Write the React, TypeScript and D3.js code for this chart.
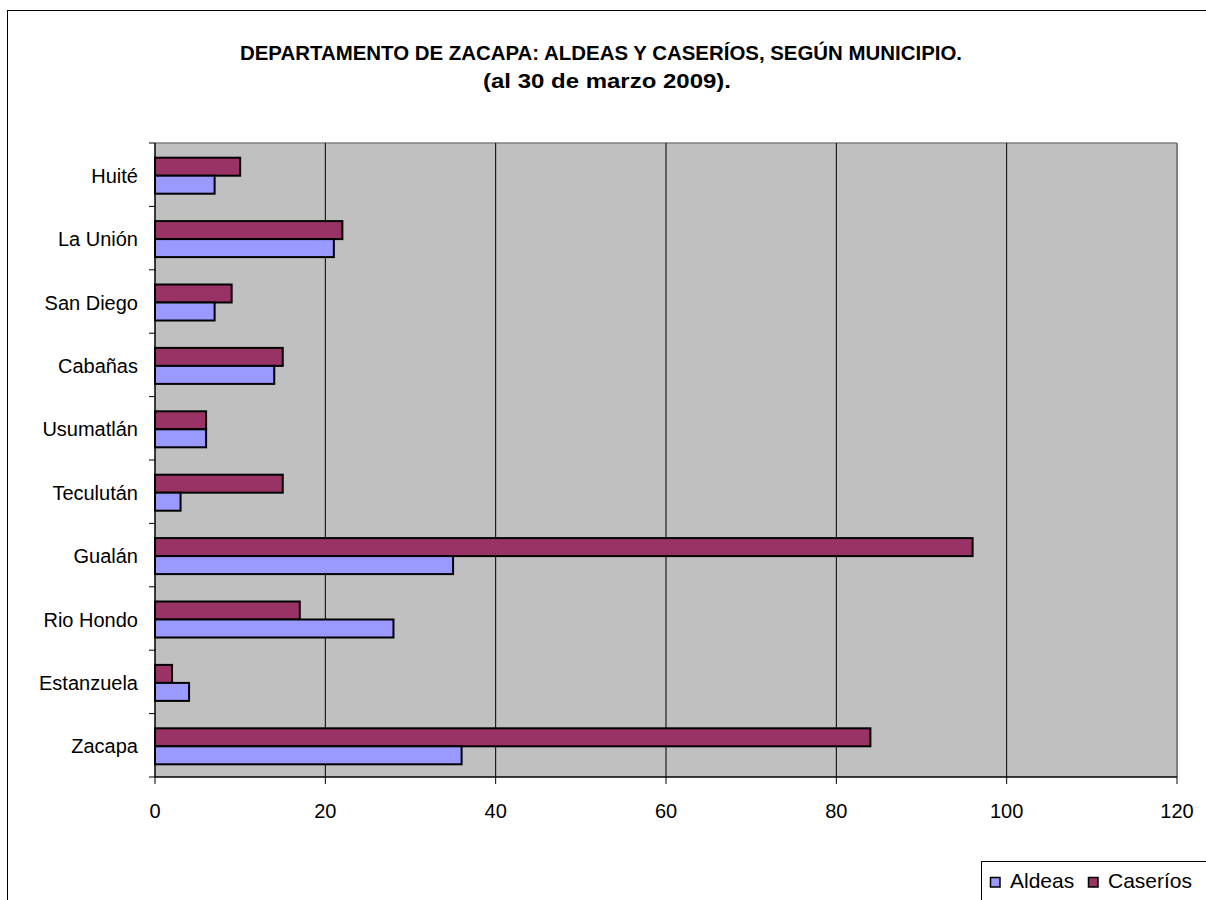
import React from 'react';
import * as d3 from 'd3';

const municipios = ['Huité', 'La Unión', 'San Diego', 'Cabañas', 'Usumatlán', 'Teculután', 'Gualán', 'Rio Hondo', 'Estanzuela', 'Zacapa'];
const aldeas = [7, 21, 7, 14, 6, 3, 35, 28, 4, 36];
const caserios = [10, 22, 9, 15, 6, 15, 96, 17, 2, 84];
const xTicks = [0, 20, 40, 60, 80, 100, 120];
const seriesNames = ['Aldeas', 'Caseríos'];
const seriesColors = ['#9999FF', '#993366'];

const W = 1206;
const H = 900;
const plot = { left: 155, top: 143, right: 1177, bottom: 777 };
const font = 'Arial, "Liberation Sans", sans-serif';

export default function App() {
  const x = d3.scaleLinear().domain([0, 120]).range([plot.left, plot.right]);
  const y = d3.scaleBand().domain(municipios).range([plot.top, plot.bottom]);
  const barH = 18;

  const boundaries = d3.range(municipios.length + 1).map((i) => plot.top + i * y.step());

  return (
    <svg width={W} height={H} style={{ position: 'absolute', left: 0, top: 0, background: '#fff' }}>
      {/* outer frame, cut off on the right and bottom */}
      <rect x={7.5} y={10.5} width={W + 10} height={H + 10} fill="#fff" stroke="#000" strokeWidth={1} />

      <text x={601} y={60} textAnchor="middle" fontFamily={font} fontWeight="bold" fontSize={20.5} textLength={722} lengthAdjust="spacingAndGlyphs">
        DEPARTAMENTO DE ZACAPA: ALDEAS Y CASERÍOS, SEGÚN MUNICIPIO.
      </text>
      <text x={607} y={88} textAnchor="middle" fontFamily={font} fontWeight="bold" fontSize={20.5} textLength={248} lengthAdjust="spacingAndGlyphs">
        (al 30 de marzo 2009).
      </text>

      {/* plot area */}
      <rect x={plot.left} y={plot.top} width={plot.right - plot.left} height={plot.bottom - plot.top} fill="#C0C0C0" />
      <line x1={plot.left} x2={plot.right} y1={plot.top} y2={plot.top} stroke="#808080" strokeWidth={1.5} />
      <line x1={plot.right} x2={plot.right} y1={plot.top} y2={plot.bottom} stroke="#808080" strokeWidth={2} />

      {xTicks.slice(1, -1).map((t) => (
        <line key={t} x1={x(t)} x2={x(t)} y1={plot.top} y2={plot.bottom} stroke="#000" strokeWidth={1} />
      ))}

      {municipios.map((m, i) => {
        const c = (y(m) as number) + y.bandwidth() / 2 + 1;
        return (
          <g key={m}>
            <rect x={x(0)} y={c - barH} width={x(caserios[i]) - x(0)} height={barH} fill={seriesColors[1]} stroke="#000" strokeWidth={2} />
            <rect x={x(0)} y={c} width={x(aldeas[i]) - x(0)} height={barH} fill={seriesColors[0]} stroke="#000" strokeWidth={2} />
            <text x={138} y={c + 7} textAnchor="end" fontFamily={font} fontSize={20}>{m}</text>
          </g>
        );
      })}

      {/* axes */}
      <line x1={plot.left} x2={plot.left} y1={plot.top} y2={plot.bottom} stroke="#000" strokeWidth={1.5} />
      <line x1={plot.left} x2={plot.right} y1={plot.bottom} y2={plot.bottom} stroke="#000" strokeWidth={1.5} />
      {boundaries.map((b, i) => (
        <line key={i} x1={plot.left - 6} x2={plot.left} y1={b} y2={b} stroke="#000" strokeWidth={1} />
      ))}
      {xTicks.map((t) => (
        <g key={t}>
          <line x1={x(t)} x2={x(t)} y1={plot.bottom} y2={plot.bottom + 7} stroke="#000" strokeWidth={1} />
          <text x={x(t)} y={818} textAnchor="middle" fontFamily={font} fontSize={20}>{t}</text>
        </g>
      ))}

      {/* legend */}
      <rect x={981.5} y={861.5} width={300} height={100} fill="#fff" stroke="#000" strokeWidth={1} />
      {seriesNames.map((s, i) => {
        const lx = i === 0 ? 990.5 : 1088.5;
        return (
          <g key={s}>
            <rect x={lx} y={877.5} width={9.5} height={9.5} fill={seriesColors[i]} stroke="#000" strokeWidth={1.5} />
            <text x={lx + 19.5} y={888} fontFamily={font} fontSize={21}>{s}</text>
          </g>
        );
      })}
    </svg>
  );
}
